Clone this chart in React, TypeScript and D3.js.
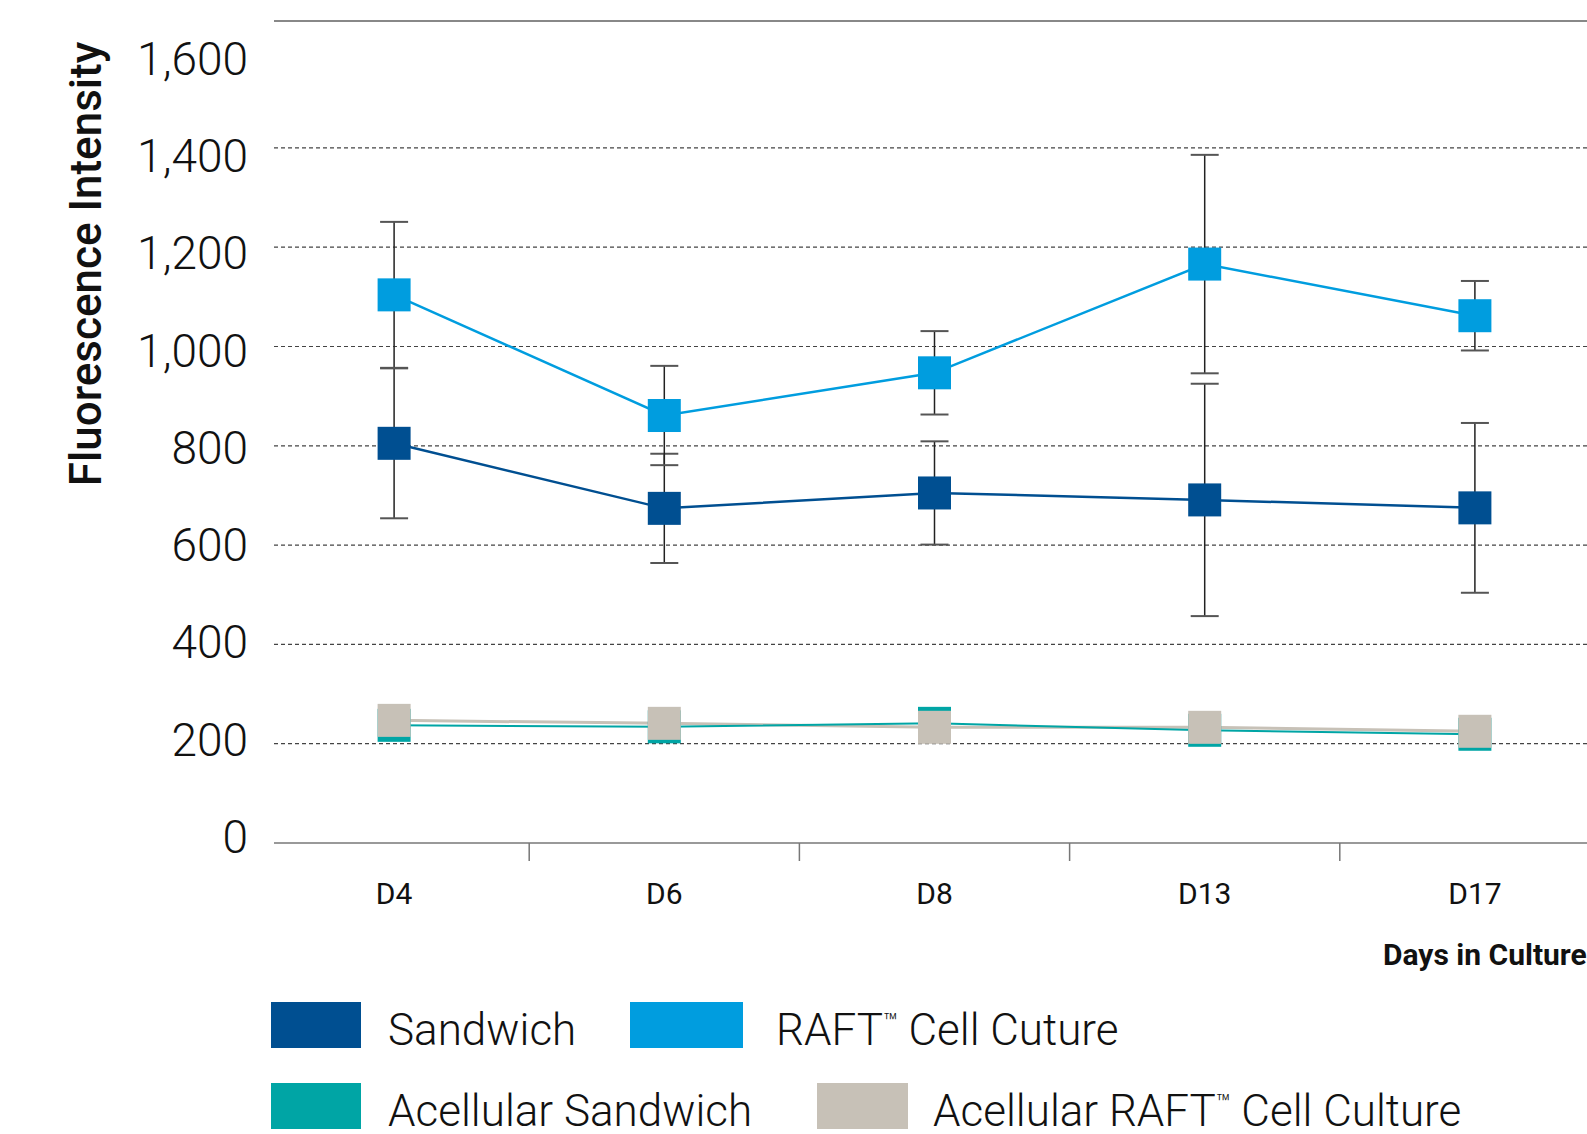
import React from "react";
import * as d3 from "d3";

const days = ["D4", "D6", "D8", "D13", "D17"];
const sandwichMean = [805, 674, 705, 691, 675];
const sandwichSd = [151, 110, 104, 234, 171];
const raftMean = [1104, 861, 947, 1166, 1062];
const raftSd = [147, 100, 84, 220, 70];
const acellSandwich = [237, 234, 241, 227, 219];
const acellRaft = [247, 241, 233, 233, 225];
const yTicks = [0, 200, 400, 600, 800, 1000, 1200, 1400, 1600];
const gridTicks = [200, 400, 600, 800, 1000, 1200, 1400];

const legendRow1 = ["Sandwich", "RAFT™ Cell Cuture"];
const legendRow2 = ["Acellular Sandwich", "Acellular RAFT™ Cell Culture"];

const C_DARK = "#004f91";
const C_LIGHT = "#009ddf";
const C_TEAL = "#00a5a5";
const C_GRAY = "#c7c1b7";
const FONT = "Roboto, 'Open Sans', sans-serif";

function LegendText({ x, y, label }: { x: number; y: number; label: string }) {
  const parts = label.split("™");
  const kids: React.ReactNode[] = [];
  parts.forEach((p, i) => {
    if (i === 0) {
      kids.push(<tspan key={"p" + i}>{p}</tspan>);
    } else {
      kids.push(
        <tspan key={"t" + i} fontSize={24} dy={-15}>™</tspan>
      );
      kids.push(
        <tspan key={"p" + i} dy={15}>{p}</tspan>
      );
    }
  });
  return (
    <text x={x} y={y} fontSize={44} fontWeight={300} fill="#111">
      {kids}
    </text>
  );
}

export default function App() {
  const W = 1587, H = 1134;
  const x = d3.scaleBand<string>().domain(days).range([259, 1610]);
  const y = d3.scaleLinear().domain([0, 1600]).range([843, 48.6]);
  const yLab = d3.scaleLinear().domain([0, 1600]).range([837, 58.7]);
  const cx = (d: string) => (x(d) as number) + x.bandwidth() / 2;
  const line = d3.line<[string, number]>().x((p) => cx(p[0])).y((p) => y(p[1]));
  const pts = (vals: number[]) => days.map((d, i) => [d, vals[i]] as [string, number]);
  const M = 33;

  const errBars = (means: number[], sds: number[], key: string) =>
    days.map((d, i) => {
      const top = y(means[i] + sds[i]);
      const bot = y(means[i] - sds[i]);
      const xc = cx(d);
      return (
        <g key={key + d}>
          <line x1={xc} x2={xc} y1={top} y2={bot} stroke="#222" strokeWidth={1.5} />
          <line x1={xc - 14} x2={xc + 14} y1={top} y2={top} stroke="#555" strokeWidth={2} />
          <line x1={xc - 14} x2={xc + 14} y1={bot} y2={bot} stroke="#555" strokeWidth={2} />
        </g>
      );
    });

  const markers = (vals: number[], color: string, key: string) =>
    days.map((d, i) => (
      <rect key={key + d} x={cx(d) - M / 2} y={y(vals[i]) - M / 2} width={M} height={M} fill={color} />
    ));

  const innerTicks = days.slice(1).map((d) => x(d) as number);

  return (
    <div style={{ position: "absolute", left: 0, top: 0 }}>
      <svg width={W} height={H} style={{ display: "block", background: "#fff" }} fontFamily={FONT}>
        <line x1={274} x2={W} y1={21} y2={21} stroke="#888" strokeWidth={2} />
        {gridTicks.map((t) => (
          <line key={t} x1={274} x2={W} y1={y(t)} y2={y(t)} stroke="#444" strokeWidth={1.2} strokeDasharray="4,3" />
        ))}
        <line x1={274} x2={W} y1={y(0)} y2={y(0)} stroke="#777" strokeWidth={1.5} />
        {innerTicks.map((t, i) => (
          <line key={i} x1={t} x2={t} y1={y(0)} y2={y(0) + 18} stroke="#777" strokeWidth={1.5} />
        ))}
        {days.map((d) => (
          <text key={d} x={cx(d)} y={893} textAnchor="middle" dominantBaseline="central" fontSize={30} fill="#111">
            {d}
          </text>
        ))}
        <text x={1383} y={965} fontSize={30} fontWeight={700} fill="#111">Days in Culture</text>
        {yTicks.map((t) => (
          <text key={t} x={248} y={yLab(t)} textAnchor="end" dominantBaseline="central" fontSize={46} fontWeight={300} fill="#111">
            {d3.format(",")(t)}
          </text>
        ))}
        <text
          transform={`translate(86,264) rotate(-90)`}
          textAnchor="middle"
          dominantBaseline="central"
          fontSize={44}
          fontWeight={500}
          fill="#111"
        >
          Fluorescence Intensity
        </text>

        <path d={line(pts(acellRaft)) as string} fill="none" stroke={C_GRAY} strokeWidth={3} />
        <path d={line(pts(acellSandwich)) as string} fill="none" stroke={C_TEAL} strokeWidth={2} />
        {markers(acellSandwich, C_TEAL, "ts")}
        {markers(acellRaft, C_GRAY, "gr")}

        {errBars(sandwichMean, sandwichSd, "es")}
        {errBars(raftMean, raftSd, "er")}
        <path d={line(pts(sandwichMean)) as string} fill="none" stroke={C_DARK} strokeWidth={2.5} />
        <path d={line(pts(raftMean)) as string} fill="none" stroke={C_LIGHT} strokeWidth={2.5} />
        {markers(sandwichMean, C_DARK, "ms")}
        {markers(raftMean, C_LIGHT, "mr")}

        <rect x={271} y={1002} width={90} height={46} fill={C_DARK} />
        <LegendText x={388} y={1045} label={legendRow1[0]} />
        <rect x={630} y={1002} width={113} height={46} fill={C_LIGHT} />
        <LegendText x={776} y={1045} label={legendRow1[1]} />
        <rect x={271} y={1083} width={90} height={46} fill={C_TEAL} />
        <LegendText x={388} y={1126} label={legendRow2[0]} />
        <rect x={817} y={1083} width={91} height={46} fill={C_GRAY} />
        <LegendText x={933} y={1126} label={legendRow2[1]} />
      </svg>
    </div>
  );
}
